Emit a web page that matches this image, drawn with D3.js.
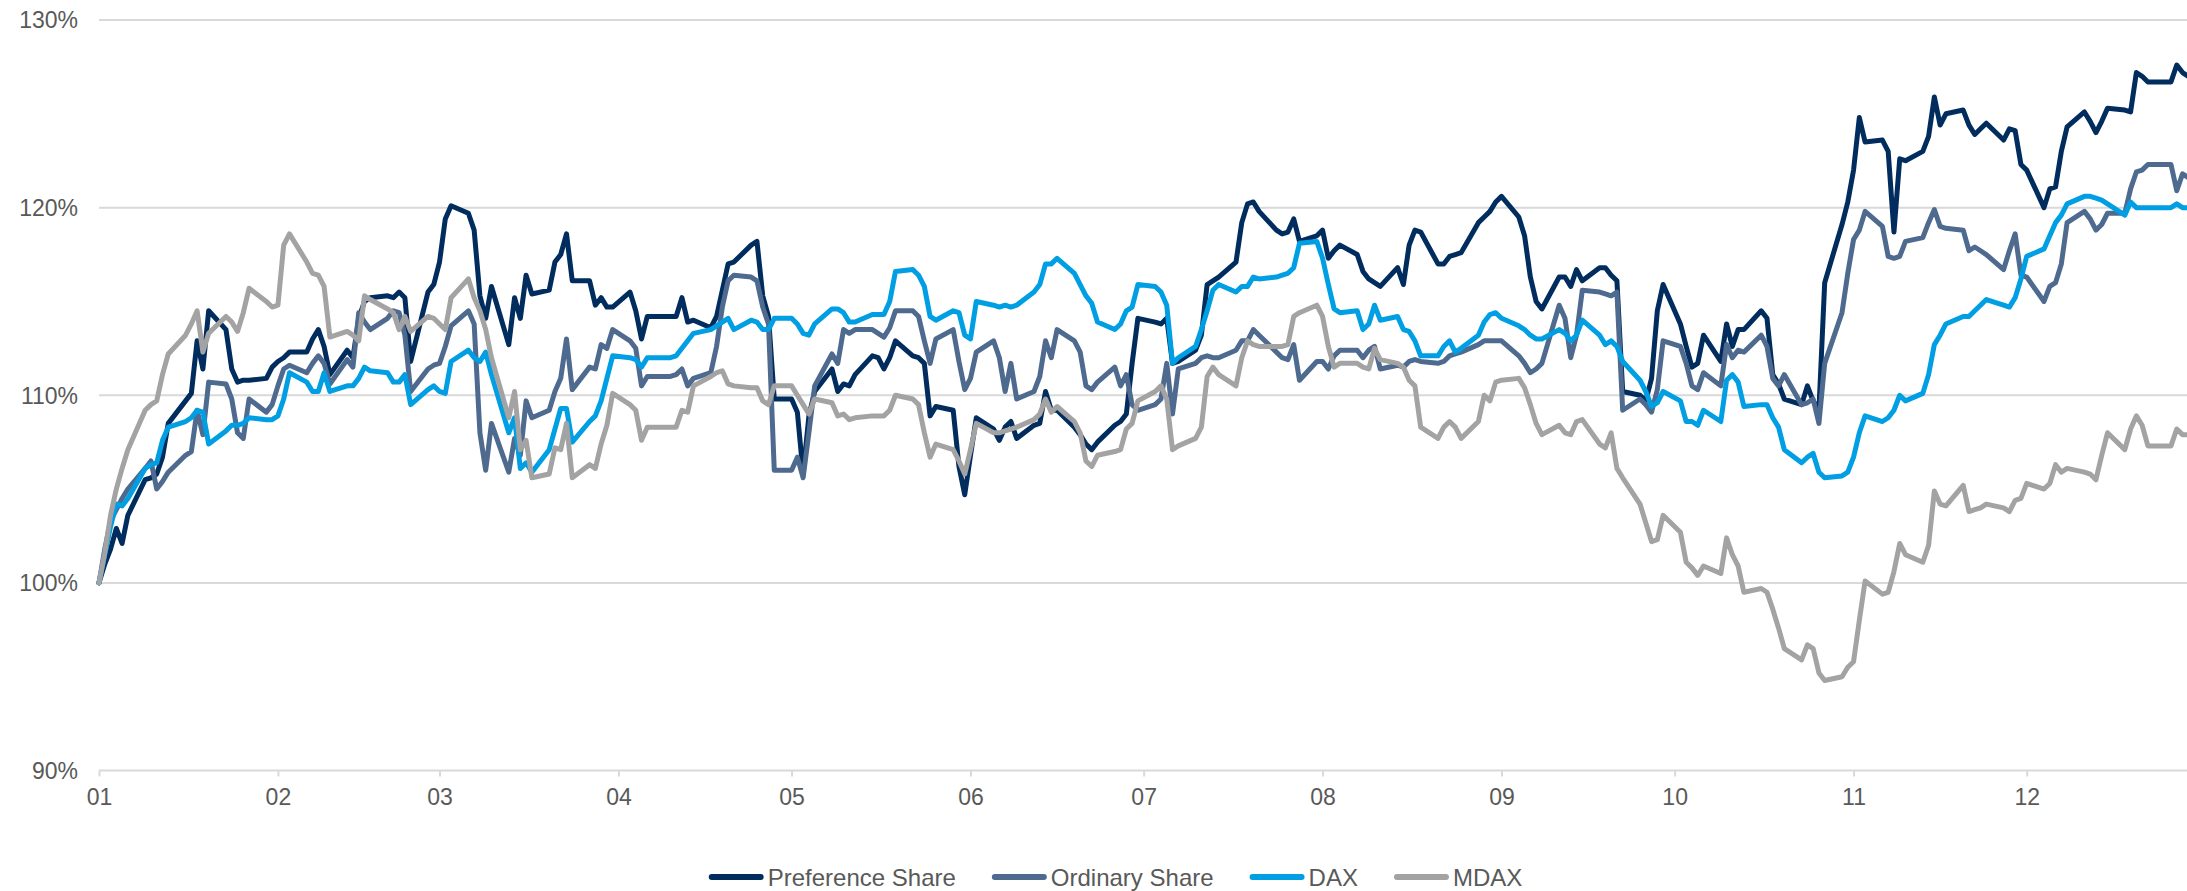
<!DOCTYPE html>
<html>
<head>
<meta charset="utf-8">
<script src="https://cdn.jsdelivr.net/npm/d3@7/dist/d3.min.js"></script>
<style>
  html, body { margin: 0; padding: 0; background: #ffffff; }
  svg { display: block; font-family: "Liberation Sans", Arial, Helvetica, sans-serif; }
</style>
</head>
<body>
<svg id="chart" width="2187" height="891"></svg>
<script>
// Trading days of 2023 (MM-DD), base point on 01-01
const dates = [
  "01-01",
  "01-02","01-03","01-04","01-05","01-06","01-09","01-10","01-11","01-12","01-13","01-16","01-17","01-18","01-19","01-20","01-23","01-24","01-25","01-26","01-27","01-30","01-31",
  "02-01","02-02","02-03","02-06","02-07","02-08","02-09","02-10","02-13","02-14","02-15","02-16","02-17","02-20","02-21","02-22","02-23","02-24","02-27","02-28",
  "03-01","03-02","03-03","03-06","03-07","03-08","03-09","03-10","03-13","03-14","03-15","03-16","03-17","03-20","03-21","03-22","03-23","03-24","03-27","03-28","03-29","03-30","03-31",
  "04-03","04-04","04-05","04-06","04-07","04-10","04-11","04-12","04-13","04-14","04-17","04-18","04-19","04-20","04-21","04-24","04-25","04-26","04-27","04-28",
  "05-01","05-02","05-03","05-04","05-05","05-08","05-09","05-10","05-11","05-12","05-15","05-16","05-17","05-18","05-19","05-22","05-23","05-24","05-25","05-26","05-29","05-30","05-31",
  "06-01","06-02","06-05","06-06","06-07","06-08","06-09","06-12","06-13","06-14","06-15","06-16","06-19","06-20","06-21","06-22","06-23","06-26","06-27","06-28","06-29","06-30",
  "07-03","07-04","07-05","07-06","07-07","07-10","07-11","07-12","07-13","07-14","07-17","07-18","07-19","07-20","07-21","07-24","07-25","07-26","07-27","07-28","07-31",
  "08-01","08-02","08-03","08-04","08-07","08-08","08-09","08-10","08-11","08-14","08-15","08-16","08-17","08-18","08-21","08-22","08-23","08-24","08-25","08-28","08-29","08-30","08-31",
  "09-01","09-04","09-05","09-06","09-07","09-08","09-11","09-12","09-13","09-14","09-15","09-18","09-19","09-20","09-21","09-22","09-25","09-26","09-27","09-28","09-29",
  "10-02","10-03","10-04","10-05","10-06","10-09","10-10","10-11","10-12","10-13","10-16","10-17","10-18","10-19","10-20","10-23","10-24","10-25","10-26","10-27","10-30","10-31",
  "11-01","11-02","11-03","11-06","11-07","11-08","11-09","11-10","11-13","11-14","11-15","11-16","11-17","11-20","11-21","11-22","11-23","11-24","11-27","11-28","11-29","11-30",
  "12-01","12-04","12-05","12-06","12-07","12-08","12-11","12-12","12-13","12-14","12-15","12-18","12-19","12-20","12-21","12-22","12-25","12-26","12-27","12-28","12-29"
];

// Indexed performance in percent (start = 100)
const preferenceShare = [
  100,
  101.0,101.8,102.9,102.1,103.6,105.5,105.6,105.8,106.7,108.5,109.7,110.1,112.9,111.4,114.5,113.5,111.4,110.7,110.8,110.8,110.9,111.5,
  111.8,112.0,112.3,112.3,113.0,113.5,112.6,111.1,112.4,112.0,114.1,115.0,115.2,115.3,115.2,115.5,115.2,111.8,115.5,115.9,
  117.1,119.4,120.1,119.7,118.8,115.3,114.1,115.8,112.7,115.2,114.1,116.4,115.4,115.6,117.1,117.5,118.6,116.1,116.1,114.8,115.2,114.7,114.7,
  115.5,114.5,113.0,114.2,114.2,114.2,114.2,115.2,113.9,114.0,113.6,114.2,115.6,117.0,117.1,118.0,118.2,115.3,114.2,109.8,
  109.8,109.1,105.8,108.9,110.2,111.4,110.2,110.6,110.5,111.1,112.1,112.0,111.4,112.0,112.9,112.1,112.0,111.7,108.9,109.4,109.2,106.2,104.7,
  106.8,108.8,108.2,107.6,108.3,108.6,107.7,108.4,108.5,110.2,109.2,109.2,108.3,107.9,107.4,107.1,107.5,108.4,108.6,109.0,111.7,114.1,
  113.9,113.8,114.1,111.7,111.8,112.4,113.2,115.9,116.1,116.3,117.1,119.2,120.2,120.3,119.8,118.8,118.6,118.7,119.4,118.2,118.5,
  118.8,117.3,117.7,118.0,117.5,116.6,116.2,116.0,115.8,116.8,115.9,118.0,118.8,118.7,117.0,117.0,117.4,117.5,117.6,119.2,119.5,119.8,120.3,
  120.6,119.5,118.5,116.3,115.0,114.6,116.3,116.3,115.8,116.7,116.1,116.8,116.8,116.4,116.1,110.2,110.0,109.7,110.9,114.5,115.9,
  113.8,112.6,111.5,111.7,113.2,111.8,113.8,112.6,113.5,113.5,114.5,114.1,111.1,110.6,109.8,109.5,110.5,109.7,109.2,116.0,119.1,120.3,
  122.0,124.8,123.5,123.6,123.0,118.7,122.6,122.5,123.0,123.8,125.9,124.4,125.0,125.2,124.4,123.9,124.2,124.5,123.6,124.2,124.1,122.3,
  122.0,120.0,121.0,121.1,123.0,124.3,125.1,124.6,124.0,124.6,125.3,125.2,125.1,127.2,127.0,126.7,126.7,126.7,127.6,127.2,127.0
];

const ordinaryShare = [
  100,
  101.8,103.3,103.9,104.5,105.0,106.1,106.5,105.0,105.4,105.9,106.8,107.0,109.2,107.9,110.7,110.6,109.8,108.0,107.7,109.8,109.1,109.5,
  110.5,111.4,111.6,111.2,111.7,112.1,111.7,110.6,111.9,111.5,114.4,113.9,113.5,114.1,114.5,114.4,113.2,110.2,111.4,111.6,
  111.7,112.6,113.7,114.5,113.8,108.0,106.0,108.5,105.9,107.7,106.8,109.7,108.8,109.2,110.2,110.9,113.0,110.3,111.5,111.4,112.7,112.5,113.5,
  112.9,112.5,110.5,111.0,111.0,111.0,111.1,111.4,110.5,110.9,111.2,112.6,114.7,116.1,116.4,116.3,116.1,114.7,113.8,106.0,
  106.0,106.7,105.6,108.0,110.5,112.2,111.7,113.5,113.3,113.5,113.5,113.3,113.1,113.6,114.5,114.5,114.2,112.9,111.7,113.0,113.5,111.8,110.3,
  110.9,112.3,112.9,112.0,110.2,111.7,109.8,110.2,111.0,112.9,112.0,113.5,112.9,112.3,110.5,110.3,110.7,111.5,110.5,111.1,109.5,109.2,
  109.5,109.8,111.7,109.0,111.4,111.7,112.0,112.1,112.0,112.0,112.4,112.9,112.9,113.5,113.2,112.3,112.0,111.9,112.7,110.8,111.8,
  111.8,111.4,112.1,112.4,112.4,112.0,112.4,112.6,111.4,111.6,111.5,111.8,111.9,111.8,111.7,111.8,112.1,112.2,112.3,112.7,112.9,112.9,112.9,
  112.9,112.1,111.7,111.2,111.4,111.7,114.8,114.1,112.0,113.2,115.6,115.5,115.4,115.3,115.5,109.2,109.8,109.5,109.1,110.3,112.9,
  112.6,111.7,110.5,110.3,111.2,110.5,112.7,112.0,112.4,112.3,113.2,112.6,110.9,110.5,111.1,109.5,109.6,109.8,108.5,111.7,114.4,116.5,
  118.3,118.8,119.8,119.0,117.4,117.3,117.4,118.2,118.4,119.2,119.9,119.0,118.9,118.8,117.7,117.9,117.7,117.5,116.7,117.7,118.6,116.4,
  116.3,115.0,115.8,116.0,117.0,119.2,119.8,119.4,118.8,119.1,119.7,119.7,121.0,121.9,122.0,122.3,122.3,122.3,120.9,121.8,121.6
];

const dax = [
  100,
  101.5,103.0,104.2,104.1,104.5,106.1,106.3,106.4,107.6,108.3,108.6,108.8,109.2,109.1,107.4,108.1,108.4,108.4,108.5,108.8,108.7,108.7,
  108.9,109.8,111.2,110.7,110.2,110.2,111.2,110.2,110.5,110.5,110.9,111.5,111.3,111.2,110.7,110.7,111.1,109.5,110.3,110.5,
  110.2,110.1,111.8,112.4,112.0,111.8,112.3,111.1,108.0,108.8,106.1,106.4,105.9,107.1,108.2,109.3,109.3,107.5,108.6,108.9,109.7,110.9,112.1,
  112.0,111.9,111.5,112.0,112.0,112.0,112.1,112.5,112.9,113.3,113.5,113.7,113.9,114.1,113.5,114.0,113.9,113.5,113.5,114.1,
  114.1,113.8,113.3,113.2,113.8,114.6,114.6,114.4,113.9,113.9,114.3,114.3,114.3,115.0,116.6,116.7,116.4,115.8,114.2,114.0,114.5,114.4,113.2,
  113.0,115.0,114.8,114.7,114.8,114.7,114.8,115.5,115.9,117.0,117.0,117.3,116.5,115.9,115.3,114.9,113.9,113.5,113.8,114.5,114.7,115.9,
  115.8,115.5,114.8,111.7,112.0,112.6,113.5,114.5,115.6,115.9,115.5,115.8,115.8,116.3,116.2,116.3,116.4,116.5,116.8,118.1,118.2,
  117.3,115.9,114.6,114.4,114.5,113.5,113.8,114.8,114.0,114.2,113.5,113.4,112.9,112.1,112.1,112.6,112.9,112.3,112.5,113.2,113.9,114.3,114.4,
  114.1,113.7,113.5,113.2,113.0,113.0,113.5,113.3,112.9,113.2,114.0,113.2,112.7,112.9,112.6,111.8,110.8,110.2,109.4,109.6,110.2,
  109.7,108.6,108.6,108.4,109.2,108.6,110.8,111.1,110.7,109.4,109.5,109.5,108.8,108.3,107.1,106.4,106.7,106.9,105.9,105.6,105.7,105.9,
  106.7,108.0,108.9,108.6,108.8,109.2,110.0,109.7,110.1,111.1,112.7,113.2,113.8,114.2,114.2,114.5,114.8,115.1,114.8,114.7,115.2,116.2,
  117.4,117.8,118.5,119.2,119.6,120.2,120.6,120.6,120.5,120.4,120.2,119.6,120.3,120.0,120.0,120.0,120.0,120.0,120.2,120.0,120.0
];

const mdax = [
  100,
  101.6,103.6,105.0,106.1,107.1,109.2,109.5,109.7,111.1,112.2,113.2,113.8,114.5,112.3,113.3,114.2,113.9,113.4,114.4,115.7,115.0,114.7,
  114.8,118.0,118.6,117.1,116.5,116.4,115.8,113.1,113.4,113.2,112.9,115.3,115.1,114.6,114.4,113.5,114.2,113.4,114.2,114.1,
  113.8,113.5,115.2,116.2,115.2,114.5,113.5,112.0,108.8,110.2,107.1,107.6,105.6,105.8,107.2,107.1,108.5,105.6,106.3,106.1,107.4,108.4,110.1,
  109.5,109.2,107.6,108.3,108.3,108.3,108.3,109.2,109.1,110.5,111.0,111.2,111.3,110.6,110.5,110.4,110.4,109.7,109.5,110.5,
  110.5,110.0,109.5,109.0,109.8,109.6,108.9,109.0,108.7,108.8,108.9,108.9,108.9,109.2,110.0,109.8,109.5,108.0,106.7,107.4,107.1,106.5,105.8,
  107.1,108.5,108.0,108.0,108.1,108.2,108.3,108.7,109.0,109.8,109.1,109.4,108.6,108.0,106.5,106.2,106.8,107.0,107.1,108.2,108.5,109.7,
  110.2,110.5,109.8,107.1,107.3,107.7,108.3,111.0,111.5,111.1,110.5,112.0,112.9,112.7,112.6,112.6,112.6,112.7,114.2,114.4,114.8,
  114.2,112.6,111.5,111.7,111.7,111.5,111.4,112.5,111.9,111.7,111.5,110.8,110.5,108.3,107.7,108.3,108.6,108.3,107.7,108.6,110.0,109.7,110.7,
  110.8,110.9,110.4,109.5,108.5,107.9,108.4,108.0,107.9,108.6,108.7,107.4,107.2,108.0,106.1,105.6,104.2,103.2,102.2,102.3,103.6,
  102.7,101.1,100.8,100.4,100.9,100.5,102.4,101.5,100.9,99.5,99.7,99.5,98.6,97.6,96.5,95.9,96.7,96.5,95.2,94.8,95.0,95.5,
  95.8,98.0,100.1,99.4,99.5,100.6,102.1,101.5,101.1,102.0,104.9,104.2,104.1,105.2,103.8,103.9,104.0,104.2,104.0,103.8,104.4,104.5,
  105.3,105.0,105.3,106.3,105.9,106.1,105.9,105.8,105.5,106.8,108.0,107.1,108.2,108.9,108.4,107.3,107.3,107.3,108.2,107.9,107.9
];

const seriesNames = ["Preference Share", "Ordinary Share", "DAX", "MDAX"];
const seriesColors = ["#002c5e", "#4f6a8f", "#009fe3", "#a3a3a3"];
const yTicks = [90, 100, 110, 120, 130];

// ---- layout ----
const width = 2187, height = 891;
const svg = d3.select("#chart");
svg.append("rect").attr("width", width).attr("height", height).attr("fill", "#ffffff");

const parse = d3.timeParse("%Y-%m-%d");
const dateValues = dates.map(d => parse("2023-" + d));

const x = d3.scaleTime()
  .domain([parse("2023-01-01"), parse("2023-12-01")])
  .range([99, 2026.7]);

const y = d3.scaleLinear()
  .domain([90, 130])
  .range([770.5, 20]);

const gridColor = "#d9d9d9";
const textColor = "#595959";

// horizontal gridlines
svg.append("g")
  .selectAll("line")
  .data(yTicks.filter(t => t !== 90))
  .join("line")
  .attr("x1", 99).attr("x2", width)
  .attr("y1", d => y(d)).attr("y2", d => y(d))
  .attr("stroke", gridColor).attr("stroke-width", 2);

// y labels
svg.append("g")
  .selectAll("text")
  .data(yTicks)
  .join("text")
  .attr("x", 78)
  .attr("y", d => y(d))
  .attr("dy", "0.36em")
  .attr("text-anchor", "end")
  .attr("font-size", 23)
  .attr("fill", textColor)
  .text(d => d + "%");

// x axis
const xAxis = d3.axisBottom(x)
  .ticks(d3.timeMonth.every(1))
  .tickFormat(d3.timeFormat("%m"))
  .tickSizeInner(6)
  .tickSizeOuter(0)
  .tickPadding(12);

const gx = svg.append("g")
  .attr("transform", `translate(0,${y(90)})`)
  .call(xAxis);
gx.select(".domain").remove();
gx.append("line")
  .attr("x1", 99).attr("x2", width)
  .attr("y1", 0).attr("y2", 0)
  .attr("stroke", gridColor).attr("stroke-width", 2);
gx.selectAll(".tick line").attr("stroke", gridColor).attr("stroke-width", 2);
gx.selectAll(".tick text")
  .attr("font-size", 23)
  .attr("font-family", "\"Liberation Sans\", Arial, sans-serif")
  .attr("fill", textColor);

// series lines
const allSeries = [preferenceShare, ordinaryShare, dax, mdax];
const line = d3.line()
  .x((d, i) => x(dateValues[i]))
  .y(d => y(d));

svg.append("g")
  .selectAll("path")
  .data(allSeries)
  .join("path")
  .attr("d", d => line(d))
  .attr("fill", "none")
  .attr("stroke", (d, i) => seriesColors[i])
  .attr("stroke-width", 5)
  .attr("stroke-linejoin", "round")
  .attr("stroke-linecap", "round");

// legend
const legend = svg.append("g").attr("transform", "translate(0,877)");
const markerLen = 55, markerGap = 4, itemGap = 36;
const items = legend.selectAll("g")
  .data(seriesNames)
  .join("g");
items.append("line")
  .attr("x1", 3).attr("x2", markerLen - 3)
  .attr("y1", 0).attr("y2", 0)
  .attr("stroke", (d, i) => seriesColors[i])
  .attr("stroke-width", 6)
  .attr("stroke-linecap", "round");
items.append("text")
  .attr("x", markerLen + markerGap)
  .attr("y", 0)
  .attr("dy", "0.36em")
  .attr("font-size", 24)
  .attr("fill", textColor)
  .text(d => d);

const widths = [];
items.each(function () {
  widths.push(markerLen + markerGap + d3.select(this).select("text").node().getComputedTextLength());
});
const total = d3.sum(widths) + itemGap * (widths.length - 1);
let cursor = 1115.5 - total / 2;
items.attr("transform", (d, i) => {
  const t = `translate(${cursor},0)`;
  cursor += widths[i] + itemGap;
  return t;
});
</script>
</body>
</html>
